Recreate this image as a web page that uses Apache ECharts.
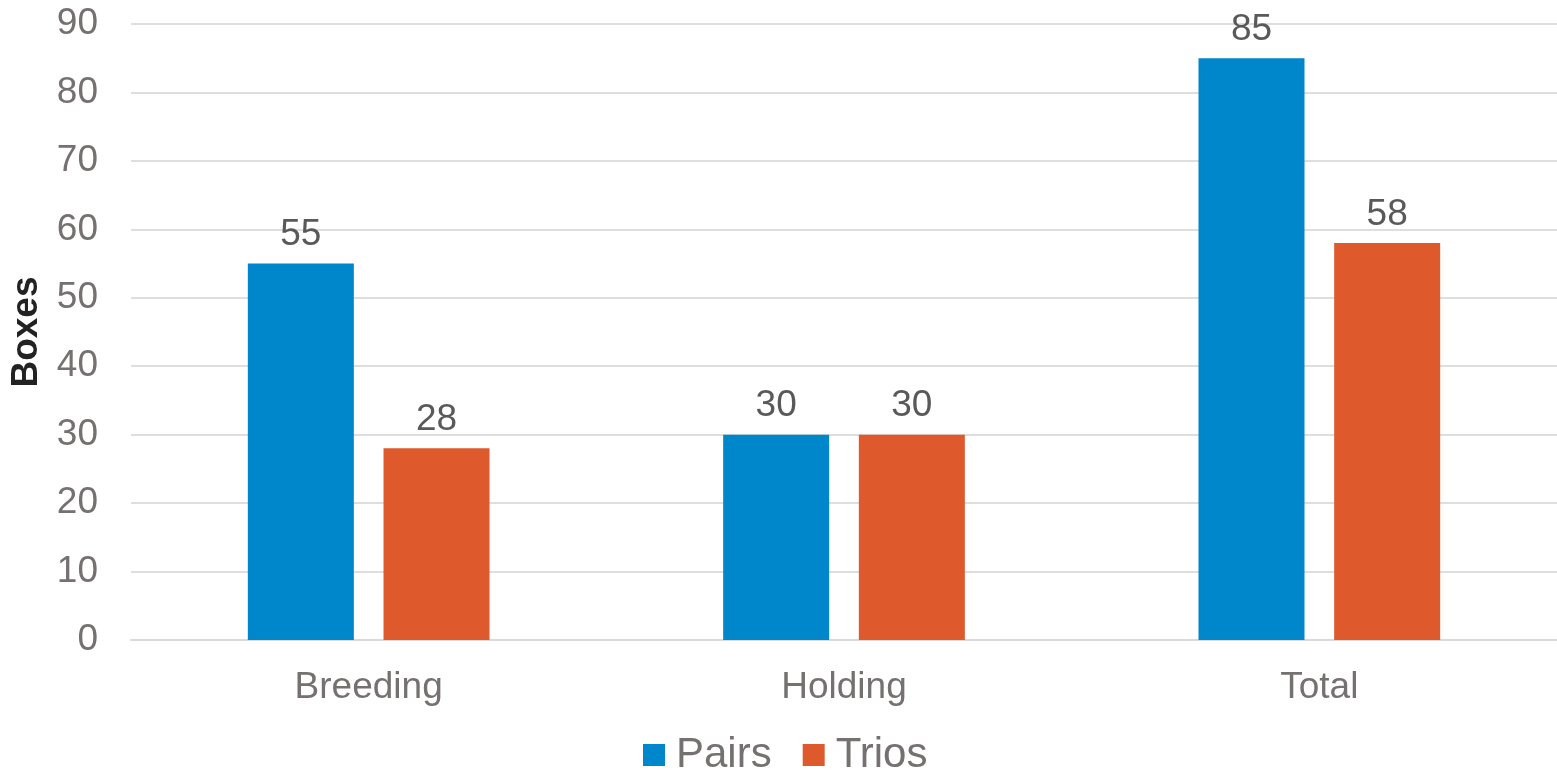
<!DOCTYPE html>
<html>
<head>
<meta charset="utf-8">
<script src="https://cdn.jsdelivr.net/npm/echarts@6/dist/echarts.min.js"></script>
<style>
  html, body { margin: 0; padding: 0; background: #fff; }
  #chart { width: 1557px; height: 779px; }
</style>
</head>
<body>
<div id="chart"></div>
<script>
// Box counts per use
const categories = ['Breeding', 'Holding', 'Total'];
const pairs = [55, 30, 85];
const trios = [28, 30, 58];
const yTicks = { min: 0, max: 90, interval: 10 };

const FONT = '"Liberation Sans", Arial, sans-serif';
const AXIS_GREY = '#767171';
const LABEL_GREY = '#595959';

const chart = echarts.init(document.getElementById('chart'), null, { renderer: 'canvas' });

const barLabel = {
  show: true,
  position: 'top',
  distance: 10,
  color: LABEL_GREY,
  fontFamily: FONT,
  fontSize: 37
};

chart.setOption({
  animation: false,
  textStyle: { fontFamily: FONT },
  grid: { left: 129, right: 0, top: 24, bottom: 139, containLabel: false },
  legend: {
    bottom: 3,
    left: 643,
    padding: 0,
    itemWidth: 22,
    itemHeight: 22,
    itemGap: 31,
    icon: 'rect',
    textStyle: { color: AXIS_GREY, fontSize: 42, fontFamily: FONT, padding: [0, 0, 0, 6] },
    data: ['Pairs', 'Trios']
  },
  xAxis: {
    type: 'category',
    data: categories,
    axisLine: { show: true, lineStyle: { color: '#d9d9d9', width: 2 } },
    axisTick: { show: false },
    axisLabel: { color: AXIS_GREY, fontSize: 37, fontFamily: FONT, margin: 29 }
  },
  yAxis: {
    type: 'value',
    min: yTicks.min,
    max: yTicks.max,
    interval: yTicks.interval,
    name: 'Boxes',
    nameLocation: 'middle',
    nameRotate: 90,
    nameGap: 86,
    nameTextStyle: { color: '#222222', fontSize: 37, fontWeight: 'bold', fontFamily: FONT },
    axisLine: { show: false },
    axisTick: { show: false },
    axisLabel: { color: AXIS_GREY, fontSize: 37, fontFamily: FONT, margin: 33 },
    splitLine: { lineStyle: { color: '#dedede', width: 2 } }
  },
  series: [
    {
      name: 'Pairs',
      type: 'bar',
      data: pairs,
      barWidth: 106,
      barGap: '28%',
      itemStyle: { color: '#0086CA' },
      label: barLabel
    },
    {
      name: 'Trios',
      type: 'bar',
      data: trios,
      barWidth: 106,
      barGap: '28%',
      itemStyle: { color: '#DE592C' },
      label: barLabel
    }
  ]
});
</script>
</body>
</html>
